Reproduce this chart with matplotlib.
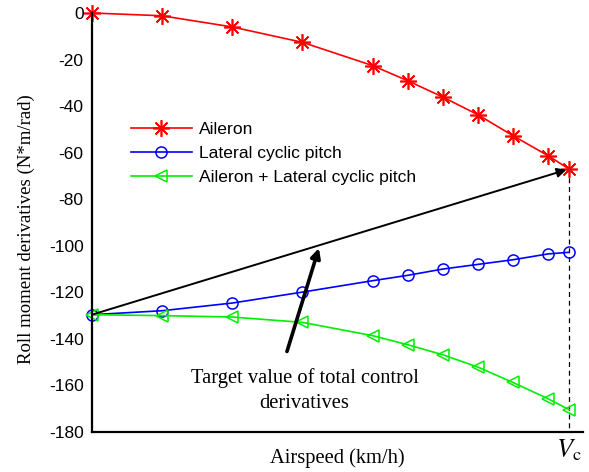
import matplotlib
matplotlib.use("Agg")
import matplotlib.pyplot as plt

airspeed = [0, 20, 40, 60, 80, 90, 100, 110, 120, 130, 136]
aileron = [0, -1.2, -6.0, -12.6, -22.6, -29.1, -36.1, -43.7, -52.7, -61.3, -67.0]
lateral = [-129.6, -127.9, -124.6, -119.9, -115.0, -112.7, -110.0, -108.0, -106.0, -103.5, -102.8]
combined = [-129.6, -130.0, -130.6, -132.9, -138.6, -142.5, -146.8, -152.1, -158.7, -165.7, -170.4]
yticks = [0, -20, -40, -60, -80, -100, -120, -140, -160, -180]
labels = ["Aileron", "Lateral cyclic pitch", "Aileron + Lateral cyclic pitch"]

plt.rcParams['mathtext.fontset'] = 'stix'
plt.rcParams['axes.unicode_minus'] = False
fig = plt.figure(figsize=(5.89, 4.72), dpi=100)
ax = fig.add_axes([0.156, 0.0847, 0.834, 0.8878])

ax.plot(airspeed, aileron, color='#ff0000', lw=1.2, marker=(8, 2, 0), markersize=12,
        markeredgewidth=1.2, label=labels[0], clip_on=False)
ax.plot(airspeed, lateral, color='#0000ff', lw=1.2, marker='o', markersize=8,
        markerfacecolor='none', markeredgewidth=1.1, label=labels[1], clip_on=False)
ax.plot(airspeed, combined, color='#00ee00', lw=1.2, marker='<', markersize=9,
        markerfacecolor='none', markeredgewidth=1.1, label=labels[2], clip_on=False)

ax.set_xlim(0, 140)
ax.set_ylim(-180, 0)
ax.set_yticks(yticks)
ax.set_xticks([])
ax.tick_params(axis='y', length=0, labelsize=12.5, pad=6)
for t in ax.get_yticklabels():
    t.set_fontfamily('Liberation Sans')
for s in ['top', 'right']:
    ax.spines[s].set_visible(False)
for s in ['left', 'bottom']:
    ax.spines[s].set_linewidth(1.6)

ylab = ax.set_ylabel('Roll moment derivatives (N*m/rad)', fontfamily='Liberation Serif', fontsize=13.5)
ax.yaxis.set_label_coords(-0.115, 0.485)
ax.set_xlabel('Airspeed (km/h)', fontfamily='Liberation Serif', fontsize=14.8, labelpad=12)

# dashed vertical line at Vc
ax.plot([airspeed[-1], airspeed[-1]], [aileron[-1], -180], color='black', lw=0.9, ls=(0, (4, 3)), zorder=1)
ax.text(airspeed[-1], -182.5, r'$V_{\mathrm{c}}$', ha='center', va='top', fontsize=19)

# arrows
ax.annotate('', xy=(airspeed[-1], aileron[-1]), xytext=(airspeed[0], lateral[0]),
            arrowprops=dict(arrowstyle='-|>', color='black', lw=1.4, mutation_scale=14, shrinkA=0, shrinkB=2))
ax.annotate('', xy=(64.7, -101.0), xytext=(55.6, -145.4),
            arrowprops=dict(arrowstyle='-|>', color='black', lw=2.6, mutation_scale=14, shrinkA=0, shrinkB=0))
ax.text(60.6, -162.2, 'Target value of total control\nderivatives', ha='center', va='center',
        fontfamily='Liberation Serif', fontsize=14.8, linespacing=1.45)

leg = ax.legend(loc='upper left', bbox_to_anchor=(0.065, 0.756), frameon=False,
                prop={'family': 'Liberation Sans', 'size': 12.6}, handlelength=3.5,
                handletextpad=0.4, labelspacing=0.5, borderaxespad=0)

fig.savefig('out.png', dpi=100)
